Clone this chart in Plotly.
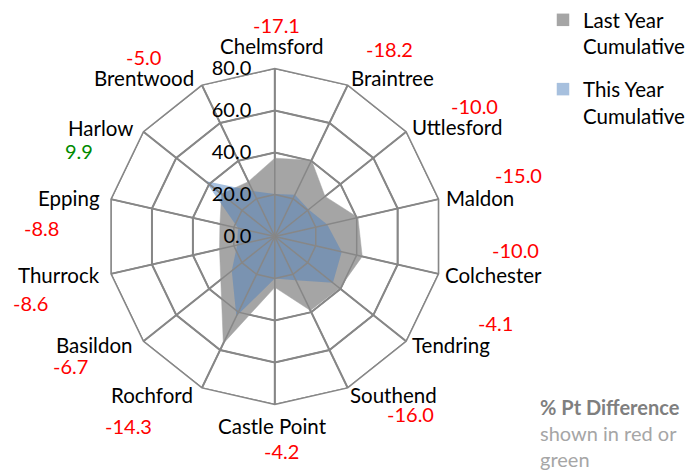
import plotly.graph_objects as go

# ---- data ----
categories = ["Chelmsford", "Braintree", "Uttlesford", "Maldon", "Colchester",
              "Tendring", "Southend", "Castle Point", "Rochford", "Basildon",
              "Thurrock", "Epping", "Harlow", "Brentwood"]
last_year = [37.3, 40.3, 30.6, 40.6, 42.7, 39.5, 39.1, 24.2, 56.5, 32.9, 27.0, 26.8, 32.4, 29.0]
this_year = [20.2, 22.1, 20.6, 25.6, 32.7, 35.4, 23.1, 20.0, 42.2, 26.2, 18.4, 18.0, 42.3, 24.0]
pt_diff = ["-17.1", "-18.2", "-10.0", "-15.0", "-10.0", "-4.1", "-16.0", "-4.2",
           "-14.3", "-6.7", "-8.6", "-8.8", "9.9", "-5.0"]
radial_ticks = [0, 20, 40, 60, 80]
radial_ticktext = ["0.0", "20.0", "40.0", "60.0", "80.0"]

# ---- layout helpers (pixel positions of labels) ----
W, H = 700, 472
label_pos = [(272, 46), (392, 78), (457, 127), (480, 198), (493, 275), (451, 345),
             (393, 395), (272, 426), (152, 395), (94, 345), (59, 275), (69, 198),
             (100, 128), (144, 78)]
diff_pos = [(276, 25), (389, 49), (474, 106), (518, 175), (515, 250), (495, 323),
            (410, 414), (281, 451), (128, 426), (70, 366), (31, 303), (41, 228),
            (79, 151), (143, 57)]

FONT = "Lato"
FS = 20.5
FS_NUM = 20
GRID = "#878787"
GREY = "#A5A5A5"
BLUE = "rgba(79,129,189,0.5)"

cx, cy, R = 274.8, 236.5, 168.0

fig = go.Figure()

closed = categories + [categories[0]]

fig.add_trace(go.Scatterpolar(
    r=last_year + [last_year[0]], theta=closed, mode="lines",
    fill="toself", fillcolor=GREY, line=dict(color=GREY, width=0.5),
    showlegend=False, hoverinfo="skip"))
fig.add_trace(go.Scatterpolar(
    r=this_year + [this_year[0]], theta=closed, mode="lines",
    fill="toself", fillcolor=BLUE, line=dict(color="rgba(0,0,0,0)", width=0),
    showlegend=False, hoverinfo="skip"))

# grid drawn above the fills (as in the original)
for v in radial_ticks[1:]:
    fig.add_trace(go.Scatterpolar(
        r=[v] * len(closed), theta=closed, mode="lines",
        line=dict(color=GRID, width=1.5), showlegend=False, hoverinfo="skip"))
for c in categories:
    fig.add_trace(go.Scatterpolar(
        r=[radial_ticks[0], radial_ticks[-1]], theta=[c, c], mode="lines",
        line=dict(color=GRID, width=1.5), showlegend=False, hoverinfo="skip"))

# legend entries
fig.add_trace(go.Scatterpolar(
    r=[None], theta=[categories[0]], mode="markers", name="Last Year<br>Cumulative",
    marker=dict(symbol="square", size=12.5, color=GREY), legendgroup="a"))
fig.add_trace(go.Scatterpolar(
    r=[None], theta=[categories[0]], mode="markers", name="This Year<br>Cumulative",
    marker=dict(symbol="square", size=12.5, color=BLUE), legendgroup="b"))

annotations = []
# category labels
for name, (px, py) in zip(categories, label_pos):
    annotations.append(dict(
        x=px / W, y=1 - py / H, xref="paper", yref="paper", text=name,
        showarrow=False, xanchor="center", yanchor="middle",
        font=dict(family=FONT, size=FS, color="#000000")))
# % point differences
for txt, (px, py) in zip(pt_diff, diff_pos):
    col = "#008A00" if not txt.startswith("-") else "#FF0000"
    annotations.append(dict(
        x=px / W, y=1 - py / H, xref="paper", yref="paper", text=txt,
        showarrow=False, xanchor="center", yanchor="middle",
        font=dict(family=FONT, size=FS_NUM, color=col)))

annotations.append(dict(
    x=538 / W, y=1 - 393 / H, xref="paper", yref="paper",
    text="<b><span style='color:#7F7F7F'>% Pt Difference</span></b><br>shown in red or<br>green",
    showarrow=False, xanchor="left", yanchor="top", align="left",
    font=dict(family=FONT, size=FS_NUM, color="#A6A6A6")))

fig.update_layout(
    width=W, height=H,
    margin=dict(l=0, r=0, t=0, b=0),
    paper_bgcolor="white", plot_bgcolor="white",
    font=dict(family=FONT, size=FS, color="#000000"),
    polar=dict(
        domain=dict(x=[(cx - R) / W, (cx + R) / W], y=[(H - cy - R) / H, (H - cy + R) / H]),
        gridshape="linear",
        bgcolor="white",
        radialaxis=dict(
            range=[0, 80], tickvals=radial_ticks, ticktext=radial_ticktext,
            angle=90, tickangle=90, side="counterclockwise",
            showline=False, gridcolor=GRID, gridwidth=1.5,
            ticks="outside", ticklen=16, tickcolor="rgba(0,0,0,0)",
            tickfont=dict(family=FONT, size=FS_NUM, color="#000000")),
        angularaxis=dict(
            categoryorder="array", categoryarray=categories,
            rotation=90, direction="clockwise",
            linecolor=GRID, linewidth=1.5, gridcolor=GRID, gridwidth=1.5,
            ticks="", showticklabels=False),
    ),
    showlegend=True,
    legend=dict(x=543 / W, y=1.0, xanchor="left", yanchor="top",
                font=dict(family=FONT, size=FS, color="#000000"),
                valign="top", tracegroupgap=13, bgcolor="rgba(0,0,0,0)",
                itemsizing="trace"),
    annotations=annotations,
)

fig.write_html("out.html", config={"displayModeBar": False},
               post_script="document.body.style.margin='0px';document.body.style.overflow='hidden';")
